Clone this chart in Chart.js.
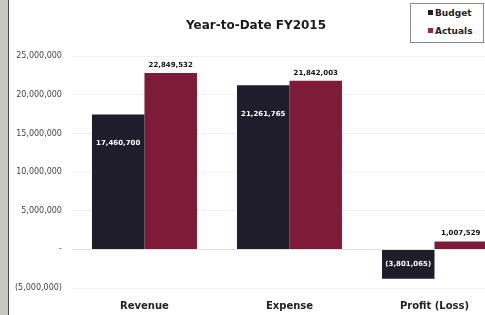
<!DOCTYPE html>
<html>
<head>
<meta charset="utf-8">
<script src="https://cdn.jsdelivr.net/npm/chart.js@4"></script>
<style>
  html, body { margin: 0; padding: 0; background: #fff; }
  #wrap { position: relative; width: 485px; height: 315px; overflow: hidden; background: #fff; }
  #strip { position: absolute; left: 0; top: 0; width: 8px; height: 315px; background: #c9c7c4; border-right: 1.5px solid #4a4a4a; z-index: 2; }
  #box { position: absolute; left: 0; top: 0; width: 522px; height: 315px; }
  #legend { position: absolute; left: 410px; top: 3px; width: 72px; height: 38px; border: 1px solid #8a8a8a; background: #fff;
    font: bold 9px "DejaVu Sans", sans-serif; color: #222; z-index: 3; }
  #legend div { position: absolute; left: 17px; white-space: nowrap; }
  #legend span { display: inline-block; width: 5px; height: 5px; margin-right: 2px; vertical-align: 1px; }
</style>
</head>
<body>
<div id="wrap">
  <div id="strip"></div>
  <div id="box"><canvas id="chart" width="522" height="315"></canvas></div>
  <div id="legend">
    <div style="top:4px"><span style="background:#1f1c2c"></span>Budget</div>
    <div style="top:22px"><span style="background:#8e2a4c"></span>Actuals</div>
  </div>
</div>
<script>
const categories = ['Revenue', 'Expense', 'Profit (Loss)'];
const budget = [17460700, 21261765, -3801065];
const actuals = [22849532, 21842003, 1007529];
const yTicks = [-5000000, 0, 5000000, 10000000, 15000000, 20000000, 25000000];
const yTickLabels = ['(5,000,000)', '-', '5,000,000', '10,000,000', '15,000,000', '20,000,000', '25,000,000'];

const fmt = v => {
  const s = Math.abs(v).toLocaleString('en-US');
  return v < 0 ? '(' + s + ')' : s;
};

const valueLabels = {
  id: 'valueLabels',
  afterDatasetsDraw(chart) {
    const ctx = chart.ctx;
    ctx.save();
    ctx.font = 'bold 7px "DejaVu Sans", sans-serif';
    ctx.textAlign = 'center';
    ctx.textBaseline = 'middle';
    chart.data.datasets.forEach((ds, di) => {
      chart.getDatasetMeta(di).data.forEach((bar, i) => {
        const v = ds.data[i];
        let y;
        if (di === 0) {
          ctx.fillStyle = '#fff';
          y = v < 0 ? (bar.y + bar.base) / 2 : bar.y + 29;
        } else {
          ctx.fillStyle = '#111';
          y = bar.y - 8;
        }
        ctx.fillText(fmt(v), bar.x, y);
      });
    });
    ctx.restore();
  }
};

new Chart(document.getElementById('chart'), {
  type: 'bar',
  data: {
    labels: categories,
    datasets: [
      { label: 'Budget', data: budget, backgroundColor: '#1f1c2c' },
      { label: 'Actuals', data: actuals, backgroundColor: '#7d1b38' }
    ]
  },
  options: {
    responsive: false,
    animation: false,
    layout: { padding: { left: 5, right: 15, top: 0, bottom: -9 } },
    datasets: { bar: { categoryPercentage: 0.724, barPercentage: 1 } },
    plugins: {
      legend: { display: false },
      tooltip: { enabled: false },
      title: {
        display: true,
        text: 'Year-to-Date FY2015',
        color: '#1a1a1a',
        font: { family: '"DejaVu Sans", sans-serif', size: 12, weight: 'bold' },
        padding: { top: 19, bottom: 23 }
      }
    },
    scales: {
      x: {
        grid: { display: false, drawTicks: false },
        border: { display: false },
        ticks: {
          color: '#222',
          padding: 12,
          font: { family: '"DejaVu Sans", sans-serif', size: 10, weight: 'bold' }
        }
      },
      y: {
        min: yTicks[0],
        max: yTicks[yTicks.length - 1],
        afterBuildTicks: axis => { axis.ticks = yTicks.map(v => ({ value: v })); },
        border: { display: false },
        grid: {
          drawTicks: false,
          color: ctx => ctx.tick && ctx.tick.value === 0 ? '#e2e2e2' : '#f2f2f2'
        },
        ticks: {
          color: '#444',
          padding: 10,
          font: { family: '"DejaVu Sans", sans-serif', size: 8 },
          callback: (v, i) => yTickLabels[yTicks.indexOf(v)]
        }
      }
    }
  },
  plugins: [valueLabels]
});
</script>
</body>
</html>
